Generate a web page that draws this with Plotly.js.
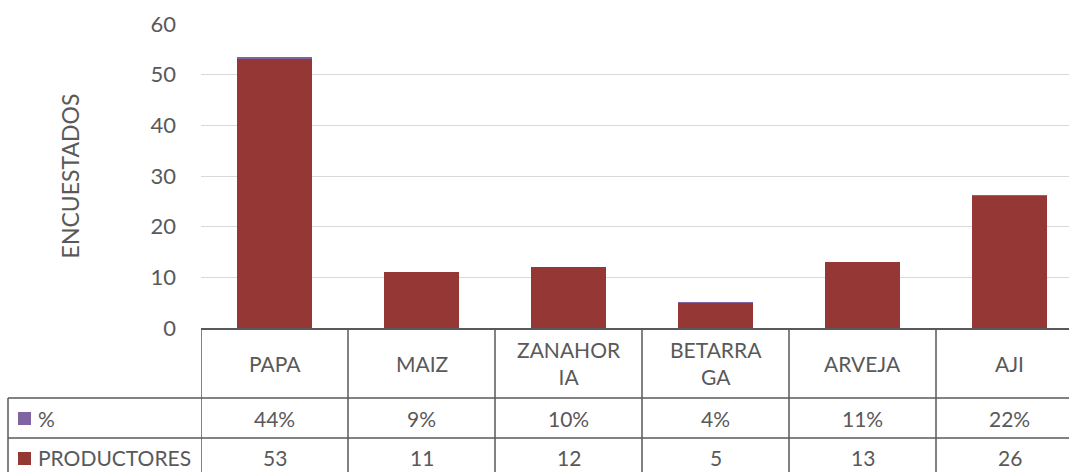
<!DOCTYPE html>
<html>
<head>
<meta charset="utf-8">
<script src="https://cdn.plot.ly/plotly-3.0.1.min.js"></script>
<style>
html,body{margin:0;padding:0;overflow:hidden;background:#fff;width:1069px;height:472px;}
#chart{width:1084px;height:472px;}
</style>
</head>
<body>
<div id="chart"></div>
<script>
// Data
var categories = ["PAPA", "MAIZ", "ZANAHORIA", "BETARRAGA", "ARVEJA", "AJI"];
var headerLabels = ["PAPA", "MAIZ", "ZANAHOR<br>IA", "BETARRA<br>GA", "ARVEJA", "AJI"];
var productores = [53, 11, 12, 5, 13, 26];
var porcentaje = [0.44, 0.09, 0.10, 0.04, 0.11, 0.22];
var seriesNames = ["%", "PRODUCTORES"];

var W = 1084, H = 472, L = 201, R = 1, T = 24, B = 144;
var plotW = W - L - R, plotH = H - T - B;
function px(x) { return (x - L) / plotW; }
function py(y) { return (T + plotH - y) / plotH; }

var txtColor = "#595959";
var lineColor = "#595959";
var fontFam = "Lato, 'Open Sans', sans-serif";
var fs = 21;

var traces = [
  { type: "bar", name: seriesNames[1], x: categories, y: productores,
    marker: { color: "#953735" }, hoverinfo: "x+y" },
  { type: "bar", name: seriesNames[0], x: categories, y: porcentaje,
    marker: { color: "#8064A2" }, hoverinfo: "x+y" }
];

var shapes = [];
var annotations = [];
var bottom = py(H + 10);
// vertical cell borders
for (var i = 0; i <= categories.length; i++) {
  shapes.push({ type: "line", xref: "x", yref: "paper", x0: i - 0.5, x1: i - 0.5,
    y0: 0, y1: bottom, line: { color: lineColor, width: 1.5 } });
}
// left border of legend column
shapes.push({ type: "line", xref: "paper", yref: "paper", x0: px(8), x1: px(8),
  y0: py(398), y1: bottom, line: { color: lineColor, width: 1.5 } });
// horizontal row borders
[398, 438].forEach(function (yy) {
  shapes.push({ type: "line", xref: "paper", yref: "paper", x0: px(8), x1: 1.01,
    y0: py(yy), y1: py(yy), line: { color: lineColor, width: 1.5 } });
});
// legend keys
shapes.push({ type: "rect", xref: "paper", yref: "paper", x0: px(18), x1: px(31),
  y0: py(425), y1: py(412), fillcolor: "#8064A2", line: { width: 0 } });
shapes.push({ type: "rect", xref: "paper", yref: "paper", x0: px(18), x1: px(31),
  y0: py(465), y1: py(452), fillcolor: "#953735", line: { width: 0 } });

var f = { family: fontFam, size: fs, color: txtColor };
annotations.push({ xref: "paper", yref: "paper", x: px(36), y: py(418), text: seriesNames[0],
  showarrow: false, xanchor: "left", yanchor: "middle", font: f });
annotations.push({ xref: "paper", yref: "paper", x: px(36), y: py(457), text: seriesNames[1],
  showarrow: false, xanchor: "left", yanchor: "middle", font: f });

for (var j = 0; j < categories.length; j++) {
  annotations.push({ xref: "x", yref: "paper", x: j, y: py(363), text: headerLabels[j],
    showarrow: false, xanchor: "center", yanchor: "middle", font: f });
  annotations.push({ xref: "x", yref: "paper", x: j, y: py(418),
    text: Math.round(porcentaje[j] * 100) + "%",
    showarrow: false, xanchor: "center", yanchor: "middle", font: f });
  annotations.push({ xref: "x", yref: "paper", x: j, y: py(457), text: String(productores[j]),
    showarrow: false, xanchor: "center", yanchor: "middle", font: f });
}

var layout = {
  width: W, height: H,
  margin: { l: L, r: R, t: T, b: B, pad: 0 },
  paper_bgcolor: "#fff", plot_bgcolor: "#fff",
  barmode: "stack", bargap: 0.49,
  showlegend: false,
  font: f,
  xaxis: { type: "category", showticklabels: false, ticks: "", showgrid: false,
    showline: true, linecolor: lineColor, linewidth: 1.5, range: [-0.5, 5.5], fixedrange: true },
  yaxis: { range: [0, 60], dtick: 10, showgrid: true, gridcolor: "#d9d9d9", gridwidth: 1,
    zeroline: false, showline: false, ticks: "", ticklabelstandoff: 24,
    tickfont: { family: fontFam, size: 22, color: txtColor },
    title: { text: "ENCUESTADOS", standoff: 64, font: { family: fontFam, size: 23, color: txtColor } },
    automargin: false, fixedrange: true },
  shapes: shapes,
  annotations: annotations
};

Plotly.newPlot("chart", traces, layout, { displayModeBar: false, staticPlot: true });
</script>
</body>
</html>
